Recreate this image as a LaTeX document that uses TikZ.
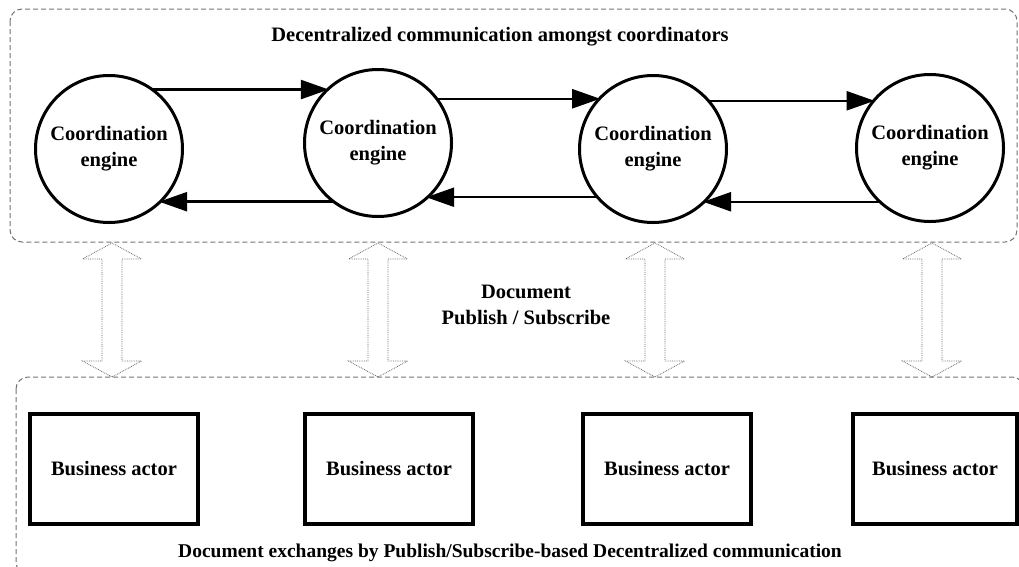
\documentclass[tikz,border=0pt]{standalone}
\usepackage{fontspec}
\setmainfont{Liberation Serif}
\usetikzlibrary{arrows.meta,calc}

\begin{document}
\begin{tikzpicture}[x=1pt,y=-1pt,
  labelfont/.style={font=\bfseries\fontsize{20.5}{26}\selectfont},
  engine/.style={circle,draw,line width=3pt,minimum size=147pt,inner sep=0pt,outer sep=0pt,align=center,labelfont},
  actor/.style={rectangle,draw,line width=4pt,minimum width=168pt,minimum height=110pt,inner sep=0pt,labelfont},
  link/.style={line width=2.5pt,-{Triangle[length=28pt,width=19pt]}},
  frame/.style={draw=black!55,line width=1pt,dash pattern=on 5pt off 3pt,rounded corners=12pt},
  hollow/.style={draw=black!60,line width=0.8pt,densely dotted},
  caption/.style={labelfont,align=center,inner sep=0pt}]

\useasboundingbox (0,0) rectangle (1019,566);

% dashed frames of the two layers
\draw[frame] (10,9) rectangle (1017,242);
\draw[frame] (16,377) rectangle (1024,574);

% coordination engines
\node[engine] (c1) at (109,149) {Coordination\\engine};
\node[engine] (c2) at (378,143) {Coordination\\engine};
\node[engine] (c3) at (653,149) {Coordination\\engine};
\node[engine] (c4) at (930,148) {Coordination\\engine};

% peer-to-peer links between engines, kept horizontal
\draw[link] (c1.54.7)  -- (c2.132.7 |- c1.54.7);
\draw[link] (c2.233.4) -- (c1.313.9 |- c2.233.4);
\draw[link] (c2.37.7)  -- (c3.136.1 |- c2.37.7);
\draw[link] (c3.221.8) -- (c2.311.6 |- c3.221.8);
\draw[link] (c3.41.8)  -- (c4.139.2 |- c3.41.8);
\draw[link] (c4.227.3) -- (c3.313.9 |- c4.227.3);

% business actors
\node[actor] (b1) at (114,469) {Business actor};
\node[actor] (b2) at (389,469) {Business actor};
\node[actor] (b3) at (667,469) {Business actor};
\node[actor,minimum width=164pt] (b4) at (935,469) {Business actor};

% captions
\node[caption] (ttop) at (500,37) {Decentralized communication amongst coordinators};
\node[caption] (tmid) at (526,305) {Document\\Publish / Subscribe};
\node[caption,font=\bfseries\fontsize{19.5}{24}\selectfont] (tbot) at (510,553)
  {Document exchanges by Publish/Subscribe-based Decentralized communication};

% hollow publish/subscribe arrows between the layers
\foreach \i/\x in {1/112,2/378,3/655,4/932}{
  \coordinate (u\i) at (\x,243);
  \coordinate (d\i) at (\x,377);
  \draw[hollow] (u\i) -- ++(29.5,16) -- ++(-19.5,0) |- ($(d\i)+(29.5,-16)$)
    -- (d\i) -- ++(-29.5,-16) -- ++(19.5,0) |- ($(u\i)+(-29.5,16)$) -- cycle;
}
\end{tikzpicture}
\end{document}
